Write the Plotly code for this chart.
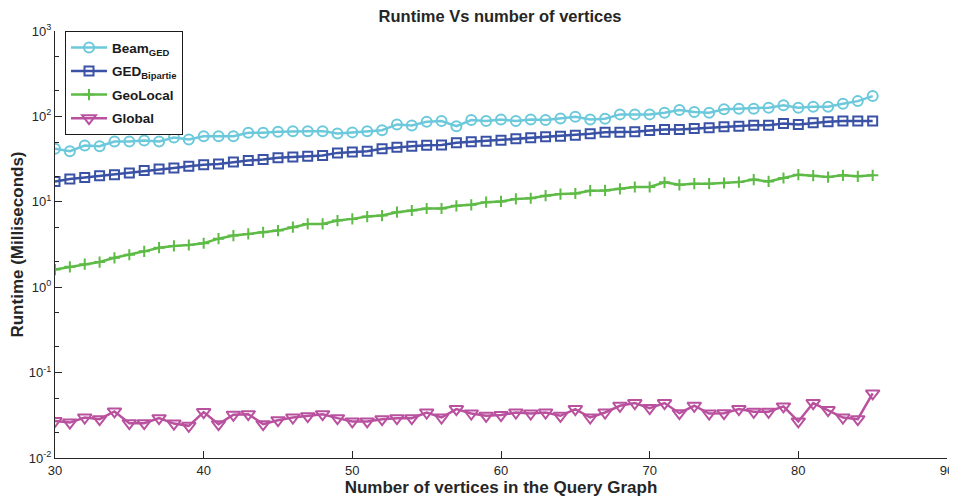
import plotly.graph_objects as go

vertices = list(range(30, 86))

beam_ged = [41.7, 39.1, 45.6, 44.8, 50.8, 50.8, 52.2, 50.8, 56.6, 53.6,
            58.6, 58.6, 58.6, 64.3, 64.3, 66.0, 67.2, 67.2, 67.2, 63.1,
            65.0, 67.0, 69.0, 80.5, 78.4, 86.5, 88.1, 76.9, 90.5, 88.1,
            92.2, 88.1, 92.2, 90.5, 94.6, 99.2, 92.2, 94.0, 105.6, 105.6,
            105.6, 110.5, 118.7, 112.5, 110.5, 120.9, 123.1, 123.1, 126.5, 134.7,
            126.5, 130.0, 130.0, 141.0, 151.0, 173.0]

ged_bipartie = [17.3, 18.5, 19.3, 20.2, 20.8, 21.8, 23.2, 24.2, 24.9, 26.0,
                27.2, 27.8, 29.3, 30.4, 31.2, 32.7, 33.5, 34.1, 34.8, 37.4,
                38.2, 39.1, 41.7, 43.5, 44.8, 46.0, 46.4, 49.0, 50.4, 51.3,
                52.7, 54.6, 56.1, 57.7, 58.6, 60.3, 62.5, 65.4, 65.4, 66.0,
                68.4, 70.3, 70.3, 72.2, 73.6, 75.5, 76.9, 79.0, 79.0, 82.7,
                80.5, 84.2, 86.5, 88.1, 88.1, 88.1]

geolocal = [1.61, 1.73, 1.86, 1.97, 2.21, 2.40, 2.63, 2.90, 3.04, 3.12,
            3.27, 3.70, 4.02, 4.20, 4.40, 4.60, 5.04, 5.51, 5.51, 6.03,
            6.31, 6.72, 6.90, 7.56, 7.91, 8.35, 8.35, 8.98, 9.22, 9.91,
            10.1, 10.8, 11.0, 11.8, 12.3, 12.5, 13.5, 13.6, 14.2, 14.9,
            14.9, 16.9, 15.8, 16.3, 16.3, 16.6, 17.0, 18.2, 17.3, 19.0,
            20.8, 20.2, 19.5, 20.4, 19.9, 20.4]

global_ = [0.0272, 0.0260, 0.0298, 0.0285, 0.0351, 0.0256, 0.0256, 0.0293, 0.0253, 0.0238,
           0.0345, 0.0249, 0.0321, 0.0326, 0.0249, 0.0277, 0.0298, 0.0309, 0.0326, 0.0293,
           0.0268, 0.0268, 0.0285, 0.0293, 0.0293, 0.0341, 0.0298, 0.0374, 0.0332, 0.0312,
           0.0318, 0.0341, 0.0332, 0.0341, 0.0312, 0.0374, 0.0298, 0.0341, 0.0409, 0.0440,
           0.0384, 0.0440, 0.0335, 0.0409, 0.0332, 0.0335, 0.0374, 0.0348, 0.0348, 0.0402,
           0.0268, 0.0440, 0.0364, 0.0298, 0.0285, 0.0571]

series_names = ["<b>Beam<sub>GED</sub></b>", "<b>GED<sub>Bipartie</sub></b>", "<b>GeoLocal</b>", "<b>Global</b>"]
y_tickvals = [0.01, 0.1, 1, 10, 100, 1000]
y_ticktext = ["10<sup>-2</sup>", "10<sup>-1</sup>", "10<sup>0</sup>",
              "10<sup>1</sup>", "10<sup>2</sup>", "10<sup>3</sup>"]
x_tickvals = [30, 40, 50, 60, 70, 80, 90]

styles = [
    dict(color="#6CC9DB", symbol="circle-open", size=10),
    dict(color="#3A52A5", symbol="square-open", size=9),
    dict(color="#5DBB46", symbol="cross-thin-open", size=8),
    dict(color="#B9519F", symbol="triangle-down-open", size=12),
]

FONT = "Liberation Sans, Arial, sans-serif"
fig = go.Figure()
for i, (name, vals, st) in enumerate(zip(series_names, [beam_ged, ged_bipartie, geolocal, global_], styles)):
    fig.add_trace(go.Scatter(
        x=vertices, y=vals, name=name, mode="lines+markers", legendgroup=f"g{i}",
        line=dict(color=st["color"], width=2.5),
        marker=dict(symbol=st["symbol"], size=st["size"], color=st["color"],
                    line=dict(color=st["color"], width=2)),
    ))

axis_font = dict(family=FONT, size=13, color="#262626")
# page body has an 8px default margin, so the figure is sized to fit the window
fig.update_layout(
    width=949, height=490,
    margin=dict(l=47, r=10, t=23, b=40),
    paper_bgcolor="white", plot_bgcolor="white",
    title=dict(text="<b>Runtime Vs number of vertices</b>", x=0.5185, xanchor="center",
               y=0.984, yanchor="middle",
               font=dict(family=FONT, size=16.5, color="#262626")),
    showlegend=True,
    legend=dict(x=0.011, y=1.0, xanchor="left", yanchor="top",
                bgcolor="white", bordercolor="#1a1a1a", borderwidth=1.2,
                font=dict(family=FONT, size=13.5, color="#1a1a1a"),
                tracegroupgap=3, itemwidth=36),
    xaxis=dict(range=[30, 90], tickvals=x_tickvals, ticks="inside", ticklen=7,
               tickcolor="#262626", showline=True, linecolor="#262626", linewidth=1.2,
               showgrid=False, zeroline=False, tickfont=axis_font, automargin=False,
               title=dict(text="<b>Number of vertices in the Query Graph</b>", standoff=2,
                          font=dict(family=FONT, size=17, color="#262626"))),
    yaxis=dict(type="log", range=[-2, 3], tickvals=y_tickvals, ticktext=y_ticktext,
               ticks="inside", ticklen=7, tickcolor="#262626",
               minor=dict(ticks="inside", ticklen=4, tickcolor="#262626", showgrid=False),
               showline=True, linecolor="#262626", linewidth=1.2,
               showgrid=False, zeroline=False, tickfont=axis_font, automargin=False,
               title=dict(text="<b>Runtime (Milliseconds)</b>", standoff=2,
                          font=dict(family=FONT, size=17, color="#262626"))),
)

fig.write_html("out.html")
